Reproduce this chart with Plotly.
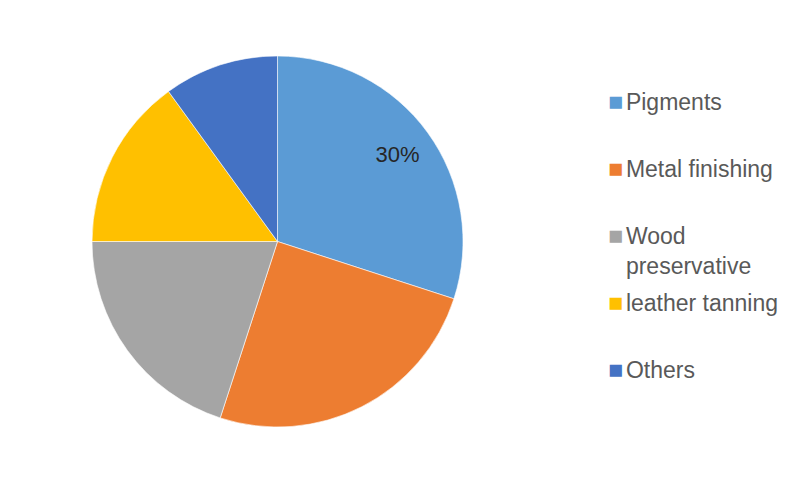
import plotly.graph_objects as go

categories = ["Pigments", "Metal finishing", "Wood preservative", "leather tanning", "Others"]
shares = [30, 25, 20, 15, 10]
legend_lines = [["Pigments", " "], ["Metal finishing", " "], ["Wood", "preservative"],
                ["leather tanning", " "], ["Others", " "]]
shown_labels = ["%{percent}", "", "", "", ""]
colors = ["#5B9BD5", "#ED7D31", "#A5A5A5", "#FFC000", "#4472C4"]

pie_domain = dict(x=[0.1050, 0.5688], y=[0.1307, 0.9004])

fig = go.Figure()
fig.add_trace(go.Pie(
    labels=categories,
    values=shares,
    sort=False,
    direction="clockwise",
    rotation=0,
    marker=dict(colors=colors, line=dict(color="white", width=0.6)),
    textinfo="none",
    domain=pie_domain,
    showlegend=False,
    hoverinfo="label+percent",
))
# transparent ring on top, only used to place the data label further out
fig.add_trace(go.Pie(
    labels=categories,
    values=shares,
    sort=False,
    direction="clockwise",
    rotation=0,
    hole=0.6,
    marker=dict(colors=["rgba(0,0,0,0)"] * len(categories), line=dict(width=0)),
    texttemplate=shown_labels,
    textposition="inside",
    insidetextorientation="horizontal",
    textfont=dict(family="Liberation Sans, Arial", size=22, color="#262626"),
    domain=pie_domain,
    showlegend=False,
    hoverinfo="skip",
))

for lab, lines, col in zip(categories, legend_lines, colors):
    gap = '<span style="font-size:10px">&nbsp;</span>'
    first = f'<span style="color:{col};font-size:25px">■</span>{gap}{lines[0]}'
    second = f'<span style="color:rgba(0,0,0,0);font-size:25px">■</span>{gap}{lines[1]}'
    fig.add_trace(go.Scatter(
        x=[None], y=[None], mode="markers",
        marker=dict(symbol="square", size=1, color="rgba(0,0,0,0)"),
        name=first + "<br>" + second, legendgroup=lab, showlegend=True, hoverinfo="skip",
    ))

fig.update_layout(
    width=800, height=482,
    margin=dict(l=0, r=0, t=0, b=0),
    paper_bgcolor="white", plot_bgcolor="white",
    xaxis=dict(visible=False), yaxis=dict(visible=False),
    legend=dict(
        x=560/800, xanchor="left", y=1-71.5/482, yanchor="top",
        traceorder="grouped", tracegroupgap=4.3, valign="top",
        font=dict(family="Liberation Sans, Arial", size=23, color="#595959"),
        bgcolor="rgba(0,0,0,0)", borderwidth=0,
    ),
)

fig.write_html("out.html")
